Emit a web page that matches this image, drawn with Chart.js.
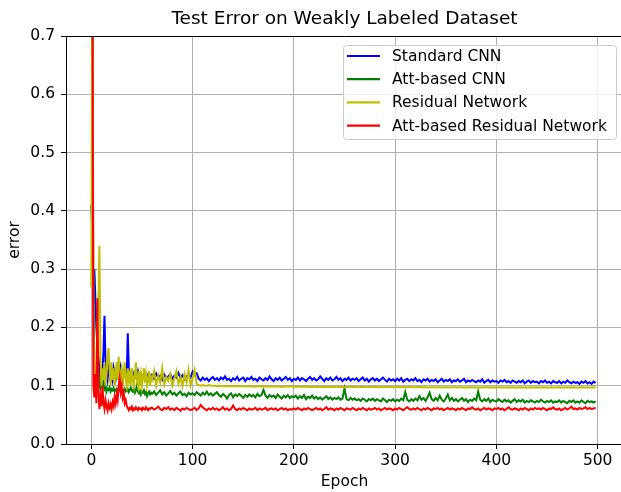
<!DOCTYPE html>
<html>
<head>
<meta charset="utf-8">
<script src="https://cdn.jsdelivr.net/npm/chart.js@4/dist/chart.umd.min.js"></script>
<style>
  html, body { margin: 0; padding: 0; background: #fff; }
  #wrap { width: 621px; height: 492px; overflow: hidden; position: relative; }
  canvas { display: block; }
</style>
</head>
<body>
<div id="wrap"><canvas id="chart" width="623" height="492"></canvas></div>
<script>
// Test error per epoch.
// Epochs 0..59 every epoch, then every second epoch up to 498.
const seriesLabels = ["Standard CNN", "Att-based CNN", "Residual Network", "Att-based Residual Network"];
const seriesColors = ["#0000ff", "#008000", "#bfbf00", "#ff0000"];
const yTicks = [0, 0.1, 0.2, 0.3, 0.4, 0.5, 0.6, 0.7];
const xTicks = [0, 100, 200, 300, 400, 500];

const epochs = [];
for (let e = 0; e < 60; e++) epochs.push(e);
for (let e = 60; e < 500; e += 2) epochs.push(e);

const standardCnnEarly = [
  0.41,0.36,0.24,0.30,0.25,0.20,0.17,0.15,0.13,0.12,
  0.11,0.12,0.16,0.22,0.14,0.12,0.11,0.13,0.12,0.11,
  0.12,0.11,0.13,0.12,0.11,0.12,0.14,0.12,0.11,0.13,
  0.12,0.11,0.12,0.13,0.12,0.12,0.19,0.13,0.12,0.12,
  0.125,0.118,0.122,0.115,0.12,0.118,0.125,0.116,0.12,0.113,
  0.118,0.115,0.12,0.112,0.117,0.114,0.119,0.112,0.116,0.113
];
const standardCnnLate = [
  0.118,0.112,0.121,0.114,0.117,0.11,0.119,0.113,0.116,0.12,
  0.112,0.117,0.114,0.122,0.113,0.118,0.111,0.116,0.119,0.114,
  0.124,0.118,0.121,0.112,0.109,0.114,0.11,0.113,0.108,0.112,
  0.115,0.11,0.113,0.109,0.114,0.111,0.116,0.11,0.112,0.108,
  0.113,0.11,0.115,0.109,0.112,0.114,0.108,0.113,0.111,0.115,
  0.11,0.112,0.108,0.114,0.111,0.109,0.113,0.11,0.116,0.111,
  0.108,0.113,0.11,0.114,0.109,0.112,0.115,0.11,0.113,0.108,
  0.112,0.11,0.114,0.109,0.113,0.111,0.108,0.112,0.115,0.11,
  0.113,0.109,0.111,0.116,0.112,0.108,0.113,0.11,0.114,0.109,
  0.111,0.115,0.11,0.113,0.108,0.112,0.11,0.114,0.109,0.112,
  0.11,0.113,0.108,0.111,0.114,0.109,0.112,0.107,0.111,0.113,
  0.109,0.112,0.108,0.111,0.114,0.11,0.107,0.112,0.109,0.111,
  0.108,0.112,0.109,0.113,0.107,0.11,0.112,0.108,0.111,0.109,
  0.113,0.108,0.11,0.106,0.111,0.109,0.112,0.107,0.11,0.108,
  0.111,0.106,0.109,0.112,0.107,0.11,0.108,0.111,0.106,0.109,
  0.108,0.111,0.107,0.109,0.112,0.106,0.109,0.107,0.11,0.108,
  0.106,0.109,0.107,0.111,0.105,0.108,0.11,0.106,0.109,0.107,
  0.108,0.105,0.109,0.107,0.11,0.106,0.108,0.105,0.109,0.107,
  0.105,0.108,0.106,0.109,0.104,0.107,0.109,0.105,0.108,0.106,
  0.107,0.104,0.108,0.106,0.109,0.105,0.107,0.104,0.108,0.106,
  0.105,0.108,0.104,0.107,0.105,0.109,0.106,0.104,0.107,0.105,
  0.106,0.103,0.107,0.105,0.108,0.104,0.106,0.103,0.107,0.105
];

const attCnnEarly = [
  0.95,0.88,0.3,0.12,0.11,0.10,0.105,0.10,0.12,0.095,
  0.10,0.098,0.11,0.095,0.10,0.09,0.095,0.093,0.097,0.09,
  0.094,0.092,0.096,0.09,0.093,0.095,0.09,0.092,0.096,0.09,
  0.093,0.088,0.092,0.095,0.09,0.091,0.094,0.089,0.093,0.097,
  0.092,0.09,0.094,0.088,0.092,0.1,0.09,0.087,0.091,0.085,
  0.09,0.088,0.092,0.086,0.089,0.082,0.087,0.09,0.085,0.088
];
const attCnnLate = [
  0.086,0.09,0.084,0.088,0.092,0.085,0.089,0.083,0.087,0.091,
  0.085,0.088,0.083,0.087,0.09,0.084,0.086,0.082,0.088,0.085,
  0.087,0.084,0.089,0.086,0.083,0.088,0.085,0.09,0.084,0.087,
  0.083,0.086,0.089,0.084,0.081,0.086,0.083,0.078,0.084,0.087,
  0.08,0.085,0.082,0.086,0.083,0.079,0.084,0.081,0.085,0.082,
  0.084,0.08,0.086,0.082,0.084,0.093,0.083,0.079,0.084,0.081,
  0.083,0.079,0.085,0.081,0.078,0.083,0.08,0.084,0.079,0.082,
  0.08,0.083,0.078,0.082,0.079,0.084,0.077,0.081,0.079,0.083,
  0.078,0.081,0.077,0.08,0.076,0.079,0.082,0.077,0.08,0.076,
  0.079,0.077,0.08,0.076,0.078,0.095,0.077,0.075,0.079,0.076,
  0.078,0.075,0.077,0.074,0.078,0.076,0.073,0.077,0.075,0.078,
  0.074,0.077,0.075,0.073,0.078,0.075,0.072,0.076,0.074,0.077,
  0.073,0.076,0.074,0.078,0.075,0.089,0.076,0.073,0.077,0.074,
  0.078,0.075,0.082,0.076,0.079,0.074,0.08,0.088,0.077,0.074,
  0.079,0.075,0.083,0.076,0.073,0.078,0.085,0.075,0.079,0.074,
  0.077,0.073,0.076,0.079,0.074,0.077,0.072,0.076,0.074,0.078,
  0.075,0.09,0.076,0.073,0.077,0.074,0.078,0.072,0.076,0.074,
  0.073,0.077,0.074,0.072,0.076,0.073,0.075,0.071,0.074,0.077,
  0.072,0.075,0.073,0.076,0.071,0.074,0.072,0.075,0.073,0.071,
  0.074,0.072,0.076,0.073,0.071,0.074,0.072,0.075,0.071,0.073,
  0.072,0.075,0.071,0.074,0.072,0.07,0.074,0.072,0.075,0.071,
  0.073,0.071,0.075,0.072,0.07,0.074,0.072,0.073,0.071,0.073
];

const residualNetEarly = [
  0.27,0.8,0.2,0.12,0.10,0.12,0.2,0.25,0.34,0.15,
  0.10,0.13,0.11,0.14,0.10,0.12,0.15,0.165,0.13,0.10,
  0.14,0.11,0.13,0.10,0.12,0.14,0.11,0.15,0.10,0.12,
  0.13,0.10,0.12,0.14,0.11,0.10,0.13,0.11,0.12,0.10,
  0.13,0.11,0.10,0.12,0.14,0.11,0.10,0.125,0.105,0.12,
  0.10,0.115,0.13,0.105,0.12,0.10,0.11,0.125,0.10,0.115
];
const residualNetLate = [
  0.11,0.125,0.1,0.118,0.105,0.13,0.102,0.115,0.108,0.12,
  0.1,0.112,0.125,0.103,0.115,0.099,0.12,0.105,0.127,0.1,
  0.112,0.127,0.103,0.101,0.1,0.101,0.1,0.1,0.101,0.1,
  0.1,0.1,0.0995,0.1,0.0995,0.0995,0.099,0.0995,0.099,0.099,
  0.099,0.099,0.0995,0.099,0.099,0.099,0.0985,0.099,0.099,0.0985,
  0.099,0.0985,0.099,0.099,0.0985,0.099,0.0985,0.0985,0.099,0.0985,
  0.0985,0.099,0.0985,0.0985,0.098,0.0985,0.0985,0.099,0.0985,0.0985,
  0.0985,0.098,0.0985,0.0985,0.098,0.0985,0.098,0.0985,0.098,0.098,
  0.0985,0.098,0.098,0.0985,0.098,0.098,0.0985,0.098,0.098,0.098,
  0.098,0.0985,0.098,0.098,0.098,0.0975,0.098,0.098,0.0985,0.098,
  0.098,0.098,0.0975,0.098,0.098,0.098,0.0975,0.098,0.098,0.0975,
  0.098,0.098,0.0975,0.098,0.0975,0.098,0.098,0.0975,0.098,0.0975,
  0.0975,0.098,0.0975,0.0975,0.098,0.0975,0.0975,0.098,0.0975,0.0975,
  0.0975,0.0975,0.098,0.0975,0.0975,0.0975,0.097,0.0975,0.0975,0.0975,
  0.097,0.0975,0.0975,0.097,0.0975,0.0975,0.0975,0.097,0.0975,0.0975,
  0.0975,0.097,0.0975,0.0975,0.097,0.0975,0.097,0.0975,0.0975,0.097,
  0.0975,0.097,0.0975,0.097,0.0975,0.0975,0.097,0.0975,0.097,0.0975,
  0.097,0.0975,0.097,0.0975,0.097,0.097,0.0975,0.097,0.0975,0.097,
  0.097,0.0975,0.097,0.097,0.0975,0.097,0.097,0.0975,0.097,0.097,
  0.0975,0.097,0.097,0.0975,0.097,0.097,0.097,0.0975,0.097,0.097,
  0.097,0.0975,0.097,0.097,0.097,0.0975,0.097,0.097,0.0975,0.097,
  0.097,0.097,0.0975,0.097,0.097,0.0975,0.097,0.097,0.0975,0.097
];

const attResidualEarly = [
  0.95,0.9,0.1,0.08,0.12,0.07,0.25,0.09,0.06,0.08,
  0.065,0.1,0.07,0.06,0.075,0.065,0.058,0.07,0.062,0.068,
  0.06,0.072,0.065,0.08,0.07,0.085,0.075,0.1,0.113,0.09,
  0.1,0.08,0.088,0.07,0.075,0.065,0.062,0.058,0.062,0.06,
  0.064,0.058,0.061,0.059,0.063,0.06,0.058,0.062,0.06,0.061,
  0.058,0.062,0.06,0.059,0.063,0.06,0.058,0.061,0.06,0.062
];
const attResidualLate = [
  0.062,0.059,0.061,0.064,0.06,0.058,0.062,0.06,0.063,0.059,
  0.061,0.058,0.062,0.06,0.057,0.061,0.059,0.062,0.06,0.058,
  0.06,0.062,0.058,0.061,0.067,0.063,0.06,0.058,0.061,0.059,
  0.062,0.059,0.061,0.058,0.06,0.063,0.059,0.061,0.058,0.06,
  0.066,0.06,0.058,0.061,0.059,0.062,0.06,0.058,0.061,0.059,
  0.06,0.062,0.058,0.061,0.059,0.06,0.062,0.058,0.06,0.061,
  0.059,0.061,0.058,0.06,0.062,0.059,0.061,0.058,0.06,0.059,
  0.061,0.059,0.062,0.06,0.058,0.061,0.059,0.062,0.06,0.058,
  0.06,0.062,0.059,0.061,0.058,0.06,0.063,0.059,0.061,0.06,
  0.058,0.061,0.059,0.062,0.06,0.058,0.061,0.06,0.059,0.062,
  0.06,0.058,0.061,0.059,0.062,0.06,0.058,0.061,0.059,0.06,
  0.062,0.059,0.061,0.058,0.06,0.062,0.059,0.061,0.06,0.058,
  0.061,0.059,0.062,0.06,0.058,0.061,0.063,0.06,0.059,0.061,
  0.059,0.062,0.06,0.058,0.061,0.059,0.062,0.06,0.058,0.061,
  0.06,0.062,0.059,0.061,0.058,0.06,0.062,0.059,0.061,0.06,
  0.058,0.061,0.059,0.062,0.06,0.058,0.061,0.06,0.063,0.06,
  0.059,0.061,0.058,0.06,0.062,0.059,0.061,0.06,0.058,0.061,
  0.06,0.062,0.059,0.061,0.058,0.06,0.063,0.06,0.059,0.061,
  0.06,0.058,0.061,0.059,0.062,0.06,0.058,0.061,0.059,0.062,
  0.06,0.061,0.059,0.062,0.06,0.058,0.061,0.06,0.063,0.06,
  0.059,0.061,0.058,0.06,0.062,0.059,0.061,0.064,0.06,0.061,
  0.059,0.062,0.06,0.061,0.063,0.06,0.062,0.06,0.061,0.062
];

const seriesValues = [
  standardCnnEarly.concat(standardCnnLate),
  attCnnEarly.concat(attCnnLate),
  residualNetEarly.concat(residualNetLate),
  attResidualEarly.concat(attResidualLate)
];

const FONT = "'DejaVu Sans', sans-serif";
const LABEL_SIZE = 15.5;

// MODULE: matplotlib-like frame, title and legend
const decorPlugin = {
  id: "decor",
  afterDraw(chart) {
    const ctx = chart.ctx;
    const a = chart.chartArea;
    ctx.save();
    // top spine
    ctx.strokeStyle = "#000";
    ctx.lineWidth = 1;
    ctx.beginPath();
    ctx.moveTo(a.left, Math.round(a.top) + 0.5);
    ctx.lineTo(a.right, Math.round(a.top) + 0.5);
    ctx.stroke();

    // title
    ctx.fillStyle = "#000";
    ctx.font = "18.5px " + FONT;
    ctx.textAlign = "center";
    ctx.textBaseline = "middle";
    ctx.fillText("Test Error on Weakly Labeled Dataset", (a.left + a.right) / 2, 19);

    // legend
    const bx = 343, by = 45, bw = 273, bh = 94, r = 3;
    ctx.globalAlpha = 0.8;
    ctx.fillStyle = "#fff";
    ctx.beginPath();
    ctx.roundRect(bx, by, bw, bh, r);
    ctx.fill();
    ctx.globalAlpha = 1;
    ctx.strokeStyle = "#cccccc";
    ctx.lineWidth = 1;
    ctx.beginPath();
    ctx.roundRect(bx + 0.5, by + 0.5, bw, bh, r);
    ctx.stroke();

    ctx.font = LABEL_SIZE + "px " + FONT;
    ctx.textAlign = "left";
    chart.data.datasets.forEach((ds, i) => {
      const y = by + 11 + i * 23.2;
      ctx.strokeStyle = ds.borderColor;
      ctx.lineWidth = 2.2;
      ctx.beginPath();
      ctx.moveTo(bx + 4, y);
      ctx.lineTo(bx + 37, y);
      ctx.stroke();
      ctx.fillStyle = "#000";
      ctx.fillText(ds.label, bx + 49, y + 1);
    });
    ctx.restore();
  }
};

const ctx = document.getElementById("chart").getContext("2d");
new Chart(ctx, {
  type: "line",
  data: {
    // later series drawn on top, as in the original plot
    datasets: seriesLabels.map((label, i) => ({
      label: label,
      data: epochs.map((e, j) => ({ x: e, y: seriesValues[i][j] })),
      borderColor: seriesColors[i],
      borderWidth: 2,
      pointRadius: 0,
      tension: 0,
      fill: false,
      order: seriesLabels.length - 1 - i
    }))
  },
  options: {
    responsive: false,
    animation: false,
    devicePixelRatio: 1,
    layout: { padding: { top: 36, left: 0, right: 0, bottom: 0 } },
    plugins: {
      legend: { display: false },
      title: { display: false },
      tooltip: { enabled: false }
    },
    scales: {
      x: {
        type: "linear",
        min: -25,
        max: 525,
        afterFit: s => { s.height = 48; },
        afterBuildTicks: s => { s.ticks = xTicks.map(v => ({ value: v })); },
        ticks: { color: "#000", font: { family: FONT, size: LABEL_SIZE }, padding: 3, maxRotation: 0 },
        grid: { color: "#b0b0b0", lineWidth: 1, tickLength: 5, tickColor: "#000", tickWidth: 1 },
        border: { color: "#000", width: 1 },
        title: { display: true, text: "Epoch", color: "#000", font: { family: FONT, size: LABEL_SIZE }, padding: { top: 0, bottom: 1 } }
      },
      y: {
        min: 0,
        max: 0.7,
        afterFit: s => { s.width = 66; },
        afterBuildTicks: s => { s.ticks = yTicks.map(v => ({ value: v })); },
        ticks: { color: "#000", font: { family: FONT, size: LABEL_SIZE }, padding: 6, callback: v => v.toFixed(1) },
        grid: { color: "#b0b0b0", lineWidth: 1, tickLength: 5, tickColor: "#000", tickWidth: 1 },
        border: { color: "#000", width: 1 },
        title: { display: true, text: "error", color: "#000", font: { family: FONT, size: LABEL_SIZE }, padding: { top: 6, bottom: 0 } }
      }
    }
  },
  plugins: [decorPlugin]
});
</script>
</body>
</html>
